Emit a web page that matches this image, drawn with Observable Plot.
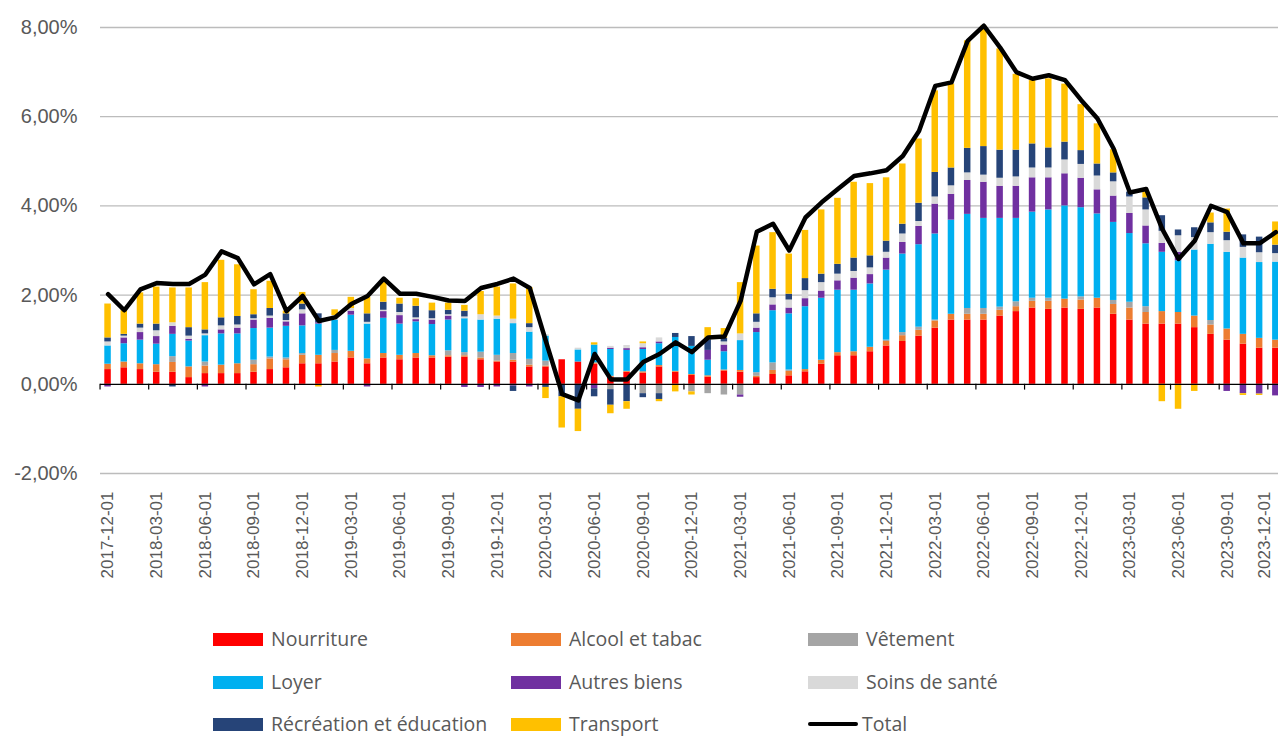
<!DOCTYPE html>
<html>
<head>
<meta charset="utf-8">
<script src="https://cdn.jsdelivr.net/npm/d3@7"></script>
<script src="https://cdn.jsdelivr.net/npm/@observablehq/plot@0.6"></script>
<style>
  html, body { margin: 0; padding: 0; background: #fff; overflow: hidden; }
  #chart { position: relative; width: 1278px; }
  #legend { position: relative; width: 1278px; height: 138px; font-family: "Open Sans", sans-serif; font-size: 19.5px; color: #595959; }
  .item { position: absolute; display: flex; align-items: center; height: 24px; line-height: 24px; white-space: nowrap; }
  .sw { width: 50px; height: 13px; margin-right: 8px; }
  .ln { width: 50px; height: 4px; margin-right: 4px; background: #000; border-radius: 2px; }
</style>
</head>
<body>
<div id="chart"></div>
<div id="legend"></div>
<script>
const months = [
  "2017-12-01",
  "2018-01-01","2018-02-01","2018-03-01","2018-04-01","2018-05-01","2018-06-01","2018-07-01","2018-08-01","2018-09-01","2018-10-01","2018-11-01","2018-12-01",
  "2019-01-01","2019-02-01","2019-03-01","2019-04-01","2019-05-01","2019-06-01","2019-07-01","2019-08-01","2019-09-01","2019-10-01","2019-11-01","2019-12-01",
  "2020-01-01","2020-02-01","2020-03-01","2020-04-01","2020-05-01","2020-06-01","2020-07-01","2020-08-01","2020-09-01","2020-10-01","2020-11-01","2020-12-01",
  "2021-01-01","2021-02-01","2021-03-01","2021-04-01","2021-05-01","2021-06-01","2021-07-01","2021-08-01","2021-09-01","2021-10-01","2021-11-01","2021-12-01",
  "2022-01-01","2022-02-01","2022-03-01","2022-04-01","2022-05-01","2022-06-01","2022-07-01","2022-08-01","2022-09-01","2022-10-01","2022-11-01","2022-12-01",
  "2023-01-01","2023-02-01","2023-03-01","2023-04-01","2023-05-01","2023-06-01","2023-07-01","2023-08-01","2023-09-01","2023-10-01","2023-11-01","2023-12-01"
];

const tickLabels = ["2017-12-01","2018-03-01","2018-06-01","2018-09-01","2018-12-01","2019-03-01","2019-06-01","2019-09-01","2019-12-01","2020-03-01","2020-06-01","2020-09-01","2020-12-01","2021-03-01","2021-06-01","2021-09-01","2021-12-01","2022-03-01","2022-06-01","2022-09-01","2022-12-01","2023-03-01","2023-06-01","2023-09-01","2023-12-01"];

const yTicks = [-2, 0, 2, 4, 6, 8];

const categories = ["Nourriture","Alcool et tabac","Vêtement","Loyer","Autres biens","Soins de santé","Récréation et éducation","Transport"];
const colors = ["#FF0000","#ED7D31","#A5A5A5","#00B0F0","#7030A0","#D9D9D9","#264478","#FFC000"];

const nourriture = [0.33,0.37,0.33,0.27,0.27,0.15,0.24,0.24,0.24,0.27,0.33,0.37,0.46,0.46,0.5,0.59,0.46,0.59,0.55,0.59,0.59,0.61,0.61,0.55,0.5,0.5,0.39,0.39,0.55,0.5,0.45,0.16,0.27,0.25,0.39,0.27,0.2,0.16,0.3,0.27,0.15,0.22,0.19,0.28,0.45,0.64,0.64,0.73,0.86,0.96,1.08,1.26,1.44,1.44,1.44,1.53,1.63,1.71,1.68,1.71,1.68,1.71,1.57,1.44,1.35,1.35,1.35,1.27,1.12,0.99,0.9,0.81,0.81];
const alcool = [0.12,0.13,0.13,0.17,0.22,0.24,0.17,0.19,0.22,0.17,0.24,0.18,0.19,0.19,0.19,0.15,0.11,0.1,0.1,0.1,0.05,0.03,0.03,0.04,0.02,0.04,0.04,0.02,0,0,0.03,0.02,0.02,0.03,0.03,0.02,0.02,0.03,0.02,0.04,0.03,0.09,0.1,0.05,0.09,0.07,0.09,0.1,0.1,0.13,0.13,0.16,0.13,0.13,0.13,0.13,0.11,0.15,0.18,0.2,0.21,0.22,0.22,0.27,0.26,0.28,0.26,0.26,0.21,0.25,0.22,0.22,0.18];
const vetement = [0,0,0,0,0.13,0,0.09,0,0,0.1,0.04,0.04,0.04,0,0.07,0,0,0,0,0,0,0.11,0.07,0.13,0.13,0.15,0.13,0.11,0,0,0,-0.12,0,-0.21,-0.21,0,-0.17,-0.21,-0.24,-0.24,0.08,0.17,0.03,0,0,0,0,0,0.03,0.07,0.07,0.02,0,0.13,0.13,0.07,0.11,0.07,0.07,0,0.07,0,0.09,0.13,0.13,0,0,0,0.1,0,0,0,0];
const loyer = [0.41,0.41,0.53,0.46,0.5,0.58,0.59,0.7,0.67,0.71,0.65,0.71,0.62,0.7,0.68,0.81,0.78,0.79,0.7,0.71,0.7,0.69,0.76,0.72,0.81,0.67,0.61,0.56,0,0.27,0.4,0.6,0.47,0.5,0.49,0.76,0.63,0.35,0.41,0.67,0.9,1.17,1.26,1.41,1.39,1.4,1.38,1.42,1.57,1.76,1.85,1.93,2.11,2.11,2.02,1.99,1.87,1.93,1.98,2.09,2.0,1.89,1.75,1.54,1.41,1.33,1.16,1.48,1.71,1.72,1.71,1.7,1.75];
const autres = [-0.06,0.13,0.17,0.17,0.18,0.04,-0.06,0.09,0.13,0.19,0.22,0.1,0.27,0.03,0,0.09,-0.06,0.15,0.19,0.05,0.1,0.09,-0.07,-0.07,-0.06,-0.04,-0.06,0,0,0,-0.1,0.03,0.04,0.04,0.04,0,0,0.22,0.15,-0.05,0.1,0.13,0.13,0.18,0.16,0.21,0.27,0.21,0.27,0.26,0.41,0.67,0.58,0.76,0.81,0.72,0.72,0.77,0.72,0.72,0.66,0.54,0.59,0.45,0.4,0.2,0.19,0,0,-0.16,-0.21,-0.22,-0.26];
const soins = [0.09,0.04,0.1,0.13,0.08,0.07,0.04,0.09,0.07,0.03,0.05,0.03,0.09,0,0.1,0.06,0.04,0.03,0.07,0.04,0.03,0.03,0.04,0.12,0.07,0.1,0.1,0.03,0,0.04,0,0.04,0.07,0.09,0.09,0,0,0,0.07,0.15,0.13,0.16,0.18,0.18,0.19,0.15,0.15,0.15,0.13,0.19,0.11,0.16,0.19,0.17,0.16,0.18,0.21,0.22,0.22,0.31,0.31,0.31,0.32,0.37,0.36,0.27,0.37,0.28,0.26,0.26,0.24,0.22,0.19];
const recreation = [0.09,0.04,0.09,0.15,-0.06,0.19,0.09,0.18,0.19,0.09,0.17,0.15,0.13,0.2,0,0,0.19,0.18,0.19,0.26,0.18,0.1,0.13,0,0,-0.12,0.09,-0.07,-0.28,-0.56,-0.18,-0.35,-0.39,-0.09,-0.13,0.09,0.22,0.24,0.08,0,0.19,0.19,0.13,0.27,0.19,0.22,0.3,0.27,0.25,0.22,0.41,0.55,0.4,0.55,0.64,0.63,0.6,0.54,0.45,0.4,0.31,0.27,0.2,0.11,0.27,0.35,0.13,0.22,0.22,0.19,0.28,0.35,0.19];
const transport = [0.76,0.53,0.7,0.83,0.78,0.89,1.06,1.29,1.16,0.56,0.61,0.06,0.26,-0.06,0.13,0.25,0.37,0.44,0.13,0.17,0.17,0.16,0.13,0.52,0.65,0.79,0.81,-0.25,-0.7,-0.5,0.05,-0.19,-0.17,0.04,-0.05,-0.17,-0.07,0.27,0.22,1.15,1.52,1.27,0.9,1.08,1.44,1.48,1.7,1.62,1.42,1.35,1.44,1.83,1.88,2.41,2.7,2.27,1.7,1.42,1.55,1.3,1.03,0.9,0.52,0,0.13,-0.39,-0.56,-0.16,0.22,0.52,-0.04,-0.03,0.52];
const total = [2.02,1.66,2.13,2.27,2.25,2.25,2.46,2.98,2.83,2.24,2.47,1.64,1.98,1.42,1.5,1.8,1.98,2.37,2.03,2.03,1.96,1.88,1.87,2.16,2.25,2.37,2.16,0.96,-0.22,-0.36,0.68,0.11,0.11,0.5,0.68,0.94,0.72,1.05,1.07,1.87,3.42,3.6,3.0,3.74,4.08,4.38,4.67,4.73,4.8,5.12,5.68,6.69,6.77,7.7,8.04,7.55,7.0,6.85,6.93,6.82,6.37,5.96,5.28,4.3,4.38,3.48,2.81,3.22,4.0,3.86,3.16,3.16,3.41];

const series = [nourriture, alcool, vetement, loyer, autres, soins, recreation, transport];

const rows = [];
months.forEach((m, i) => {
  categories.forEach((c, k) => {
    rows.push({month: m, cat: c, value: series[k][i]});
  });
});
const totalRows = months.map((m, i) => ({month: m, total: total[i]}));

const fmt = v => (v < 0 ? "-" : "") + Math.abs(v).toFixed(2).replace(".", ",") + "%";

const lastLabel = tickLabels[tickLabels.length - 1];
const mainLabels = tickLabels.slice(0, -1);

const chart = Plot.plot({
  width: 1278,
  height: 600,
  marginLeft: 100,
  marginRight: 0,
  marginTop: 27,
  marginBottom: 127,
  style: {fontFamily: "Liberation Sans, Arial, sans-serif", color: "#595959", background: "#fff"},
  x: {type: "band", domain: months, range: [104.3, 1278.6], paddingInner: 0.6, paddingOuter: 0, align: 0, round: false},
  y: {domain: [-2, 8]},
  color: {domain: categories, range: colors},
  marks: [
    Plot.ruleY(yTicks.filter(d => d !== 0), {stroke: "#bcbcbc", strokeWidth: 1.3}),
    Plot.barY(rows, Plot.stackY({x: "month", y: "value", fill: "cat", order: null})),
    Plot.ruleY([0], {stroke: "#000", strokeWidth: 1.3}),
    Plot.ruleX(tickLabels, {x: d => d, y1: 0, y2: -0.13, dx: -8, stroke: "#000", strokeWidth: 1.2}),
    Plot.line(totalRows, {x: "month", y: "total", stroke: "#000", strokeWidth: 4.5, strokeLinejoin: "round", strokeLinecap: "round"}),
    Plot.axisY({ticks: yTicks, tickSize: 0, tickPadding: 23, tickFormat: fmt, fontSize: 20}),
    Plot.axisX({ticks: mainLabels, tickRotate: -90, tickSize: 0, tickPadding: 18, fontSize: 17, anchor: "bottom", label: null}),
    Plot.axisX({ticks: [lastLabel], tickRotate: -90, tickSize: 0, tickPadding: 18, fontSize: 17, anchor: "bottom", label: null, dx: -11})
  ]
});
document.getElementById("chart").appendChild(chart);

const legendItems = [
  {name: "Nourriture", color: "#FF0000", left: 213, row: 0},
  {name: "Alcool et tabac", color: "#ED7D31", left: 511, row: 0},
  {name: "Vêtement", color: "#A5A5A5", left: 808, row: 0},
  {name: "Loyer", color: "#00B0F0", left: 213, row: 1},
  {name: "Autres biens", color: "#7030A0", left: 511, row: 1},
  {name: "Soins de santé", color: "#D9D9D9", left: 808, row: 1},
  {name: "Récréation et éducation", color: "#264478", left: 213, row: 2},
  {name: "Transport", color: "#FFC000", left: 511, row: 2},
  {name: "Total", color: null, left: 808, row: 2}
];
const leg = document.getElementById("legend");
const rowCenters = [39, 82, 124];
legendItems.forEach(it => {
  const d = document.createElement("div");
  d.className = "item";
  d.style.left = it.left + "px";
  d.style.top = (rowCenters[it.row] - 12) + "px";
  const s = document.createElement("span");
  if (it.color) { s.className = "sw"; s.style.background = it.color; }
  else { s.className = "ln"; }
  d.appendChild(s);
  const t = document.createElement("span");
  t.textContent = it.name;
  d.appendChild(t);
  leg.appendChild(d);
});
</script>
</body>
</html>
